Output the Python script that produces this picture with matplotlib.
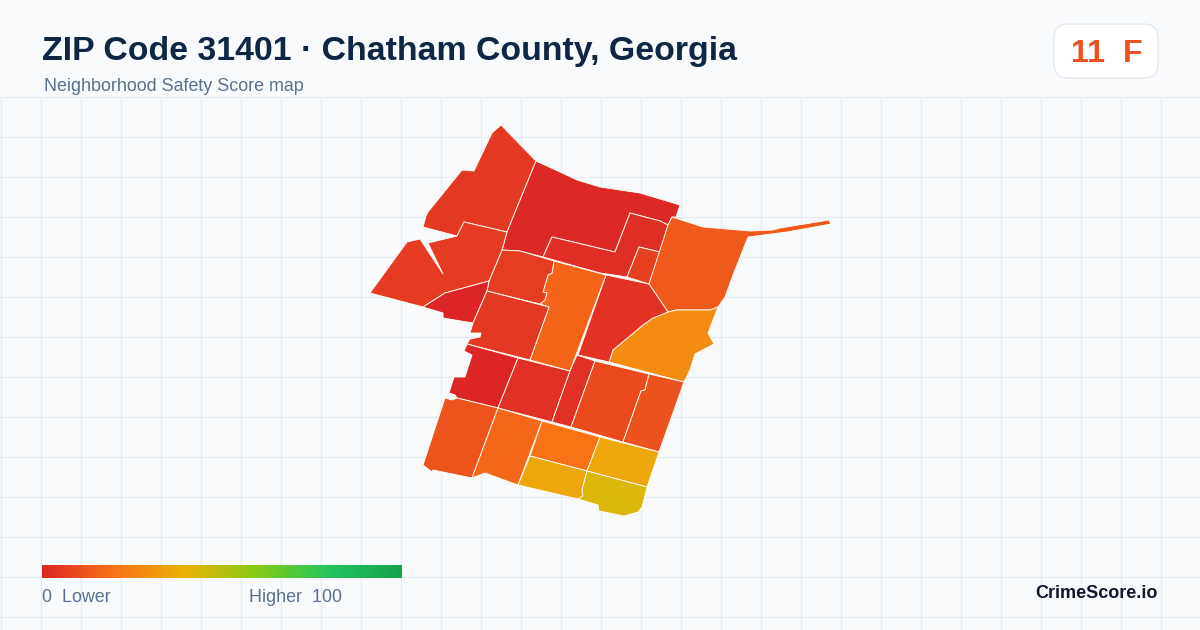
"""Neighborhood safety score map for ZIP 31401, drawn in 1200x630 pixel coordinates."""
import matplotlib

matplotlib.use("Agg")
import matplotlib.pyplot as plt
import numpy as np
from matplotlib.colors import LinearSegmentedColormap, Normalize
from matplotlib.patches import FancyBboxPatch

plt.rcParams["font.family"] = ["Liberation Sans", "DejaVu Sans"]

TITLE = "ZIP Code 31401 · Chatham County, Georgia"
SUBTITLE = "Neighborhood Safety Score map"
SCORE_TEXT = "11  F"

# score stops of the colour ramp
RAMP_STOPS = [0.0, 0.2, 0.4, 0.6, 0.8, 1.0]
RAMP_COLORS = ["#dc2626", "#f97316", "#eab308", "#84cc16", "#22c55e", "#16a34a"]

# block outlines (pixels), with their estimated score
nw_block = [(501, 125), (492, 133), (474, 171), (462, 170), (428, 212), (426, 216), (423, 227),
            (457, 236), (464, 222), (507, 232), (536, 161)]
north_block = [(536, 161), (560, 172), (577, 180), (600, 187), (640, 193), (680, 205), (676, 217),
               (672, 217), (668, 225), (660, 221), (630, 213), (615, 252), (552, 237), (543, 257),
               (520, 251), (502, 250), (507, 232)]
notch_block = [(552, 237), (615, 252), (630, 213), (660, 221), (668, 225), (660, 252), (639, 247),
               (627, 277), (600, 273), (543, 257)]
small_block = [(639, 247), (660, 252), (649, 284), (627, 277)]
ne_block = [(672, 217), (703, 227), (750, 231), (773, 230), (780, 228), (829, 220), (831, 224),
            (787, 232), (748, 237), (733, 275), (725, 297), (718, 307), (710, 310), (677, 310),
            (668, 312), (649, 284), (668, 225)]
east_block = [(668, 312), (677, 310), (710, 310), (718, 307), (708, 333), (714, 344), (695, 354),
              (690, 370), (684, 382), (609, 362), (613, 350), (643, 325), (653, 318)]
center_east = [(606, 275), (649, 284), (668, 312), (653, 318), (643, 325), (613, 350), (609, 362),
               (578, 355)]
center_block = [(554, 261), (606, 275), (570, 371), (530, 360), (549, 307), (540, 304), (545, 300),
                (547, 293), (543, 292), (548, 275), (552, 273)]
upper_mid = [(502, 250), (520, 251), (554, 261), (552, 273), (548, 275), (543, 292), (547, 293),
             (545, 300), (540, 304), (487, 291), (489, 281)]
west_block = [(507, 232), (464, 222), (457, 236), (428, 243), (443, 274), (420, 239), (407, 242),
              (370, 293), (423, 307), (445, 293), (489, 281), (502, 250)]
sliver_block = [(423, 307), (445, 293), (489, 281), (487, 291), (473, 323), (443, 318), (443, 313)]
mid_block = [(487, 291), (549, 307), (530, 360), (467, 344), (470, 339), (480, 337), (481, 333),
             (470, 333), (473, 323)]
sw_red = [(467, 344), (518, 358), (498, 408), (457, 398), (455, 395), (449, 393), (454, 377),
          (465, 377), (472, 355), (464, 351)]
south_mid = [(518, 358), (570, 371), (552, 422), (498, 408)]
strip_block = [(570, 371), (577, 355), (595, 361), (571, 427), (552, 422)]
se_mid = [(595, 361), (649, 374), (645, 390), (641, 391), (623, 442), (571, 427)]
se_block = [(649, 374), (684, 382), (659, 452), (623, 442), (641, 391), (645, 390)]
sw_big = [(445, 398), (452, 400), (457, 398), (498, 408), (472, 478), (433, 470), (432, 472),
          (423, 465)]
s_block = [(498, 408), (542, 421), (518, 485), (485, 473), (472, 478)]
s_orange = [(542, 421), (600, 437), (587, 471), (530, 456)]
s_gold = [(530, 456), (587, 471), (582, 490), (583, 496), (578, 499), (518, 485)]
se_gold = [(600, 437), (659, 452), (647, 487), (587, 471)]
s_yellow = [(587, 471), (647, 487), (642, 507), (638, 512), (624, 516), (599, 511), (598, 505),
            (578, 499), (583, 496), (582, 490)]

block_shapes = [nw_block, north_block, notch_block, small_block, ne_block, east_block, center_east,
                center_block, upper_mid, west_block, sliver_block, mid_block, sw_red, south_mid,
                strip_block, se_mid, se_block, sw_big, s_block, s_orange, s_gold, se_gold, s_yellow]
block_scores = [4.7, 1, 2, 7, 13.5, 28, 3.4,
                16.5, 6, 5.7, 0, 4.7, 0, 3,
                3, 9.4, 11.5, 12, 17, 20, 36, 36, 43]

BG = "#f8fafc"
GRID = "#e3eef2"

fig = plt.figure(figsize=(12, 6.3), dpi=100, facecolor=BG)
ax = fig.add_axes([0, 0, 1, 1])
ax.set_xlim(0, 1200)
ax.set_ylim(630, 0)
ax.axis("off")

# background grid, below the header only
for x in np.arange(0.5, 1200, 40):
    ax.plot([x, x], [96.5, 630], color=GRID, lw=0.8, zorder=1)
for y in np.arange(96.5, 630, 40):
    ax.plot([0, 1200], [y, y], color=GRID, lw=0.8, zorder=1)

cmap = LinearSegmentedColormap.from_list("score", list(zip(RAMP_STOPS, RAMP_COLORS)))
norm = Normalize(0, 100)

for shape, score in zip(block_shapes, block_scores):
    xs, ys = zip(*shape)
    ax.fill(xs, ys, facecolor=cmap(norm(score)), edgecolor="#fffdf5", lw=0.65, joinstyle="round", zorder=3)

# header
ax.text(42, 60, TITLE, fontsize=24.4, fontweight="bold", color="#0f2744", zorder=5)
ax.text(44, 91, SUBTITLE, fontsize=12.9, color="#5b7090", zorder=5)

# score badge
badge = FancyBboxPatch((1066, 36), 80, 30, boxstyle="round,pad=12,rounding_size=14",
                       facecolor="white", edgecolor="#e2e8f0", lw=0.9, zorder=4)
ax.add_patch(badge)
ax.text(1071, 62, SCORE_TEXT, fontsize=23.2, fontweight="bold", color="#ea5020", zorder=5)

# legend ramp
ramp = np.linspace(0, 1, 256).reshape(1, -1)
ax.imshow(ramp, cmap=cmap, extent=(42, 402, 578, 565), aspect="auto", zorder=4)
ax.set_xlim(0, 1200)
ax.set_ylim(630, 0)
ax.text(42, 602.5, "0  Lower", fontsize=12.9, color="#5b7090", zorder=5)
ax.text(249, 602.5, "Higher  100", fontsize=12.9, color="#5b7090", zorder=5)
ax.text(1158, 598, "CrimeScore.io", fontsize=13, fontweight="bold", color="#0f172a", ha="right", zorder=5)

fig.savefig("out.png", dpi=100, facecolor=BG)
plt.close(fig)
